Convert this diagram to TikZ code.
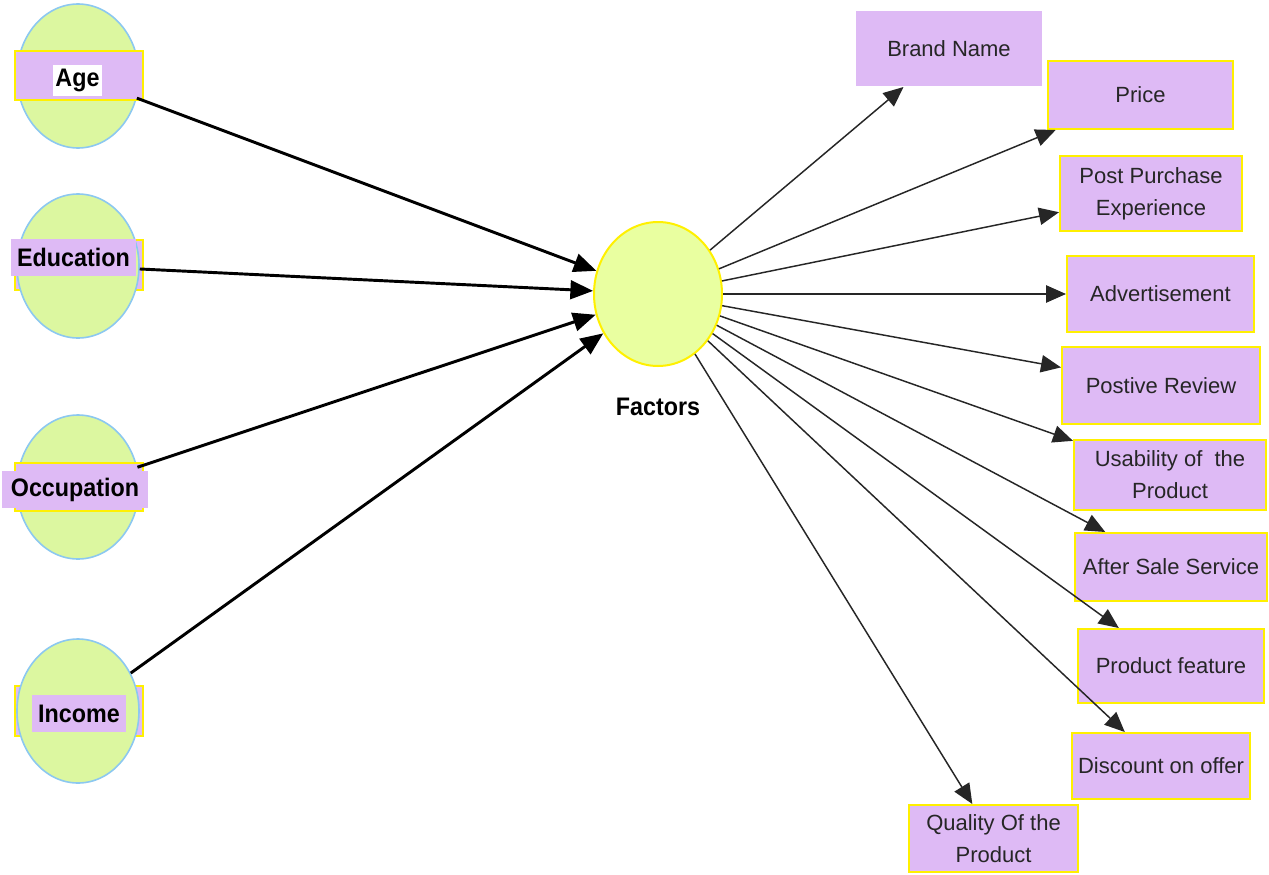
\documentclass[tikz,border=0pt]{standalone}
\usepackage{fontspec}
\setmainfont{Liberation Sans}
\newfontfamily\lblfont[FakeStretch=0.92]{Liberation Sans}
\usetikzlibrary{arrows.meta,shapes.geometric,positioning}
\definecolor{lav}{RGB}{222,186,245}
\definecolor{ylw}{RGB}{255,240,0}
\definecolor{leafgreen}{RGB}{220,247,160}
\definecolor{skyline}{RGB}{140,200,240}
\definecolor{corefill}{RGB}{233,255,160}
\tikzset{
  demog/.style={ellipse, draw=skyline, line width=1.2pt, fill=leafgreen,
    minimum width=91.5pt, minimum height=108pt, inner sep=0pt},
  tagrect/.style={draw=ylw, line width=1.5pt, fill=lav,
    minimum width=96pt, minimum height=37pt, inner sep=0pt},
  hl/.style={fill=lav, inner xsep=4.5pt, inner ysep=0pt, minimum height=27.75pt,
    font=\lblfont\bfseries\fontsize{19}{22}\selectfont},
  factbox/.style={draw=ylw, line width=1.5pt, fill=lav, align=center, text=black!85,
    font=\fontsize{16.5}{24}\selectfont, inner sep=0pt},
  inarrow/.style={line width=2.2pt, -{Triangle[length=17pt,width=14pt]}},
  outarrow/.style={line width=1.1pt, black!85, -{Triangle[length=15pt,width=13pt]}},
}
\begin{document}
\begin{tikzpicture}[x=0.75pt,y=-0.75pt]
\fill[white] (0,0) rectangle (1269,874);
% tags lying behind the circles
\node[tagrect, minimum height=37.5pt] (edur) at (79,265) {};
\node[tagrect, minimum height=37.5pt] (incr) at (79,711) {};
% demographic circles
\node[demog] (age) at (78,76) {};
\node[demog] (edu) at (78,266) {};
\node[demog] (occ) at (78,487) {};
\node[demog] (inc) at (78,711) {};
\node[tagrect] (ager) at (79,75.5) {};
\node[tagrect, minimum height=36pt] (occr) at (79,487) {};
\node[hl, fill=white, inner xsep=2pt, minimum height=23.25pt] (agel) at (77.5,80.5) {Age};
\node[hl, inner xsep=5pt] (edul) at (73.5,257.5) {Education};
\node[hl, inner xsep=6.5pt] (occl) at (75,489.5) {Occupation};
\node[hl] (incl) at (79,713.5) {Income};
% centre
\node[ellipse, draw=ylw, line width=1.5pt, fill=corefill,
  minimum width=96pt, minimum height=108pt, inner sep=0pt] (fac) at (658,294) {};
\node[below=20pt of fac, font=\lblfont\bfseries\fontsize{19}{22}\selectfont] (facl) {Factors};
% factor boxes
\node[factbox, draw=none, minimum width=139.5pt, minimum height=56.25pt] (brand) at (949,48.5) {Brand Name};
\node[factbox, minimum width=138.75pt, minimum height=51pt] (price) at (1140.5,95) {Price};
\node[factbox, minimum width=136.5pt, minimum height=56.25pt] (post) at (1151,193.5) {Post Purchase\\Experience};
\node[factbox, minimum width=140.25pt, minimum height=57pt] (adv) at (1160.5,294) {Advertisement};
\node[factbox, minimum width=148.5pt, minimum height=57.75pt] (review) at (1161,385.5) {Postive Review};
\node[factbox, minimum width=144pt, minimum height=52.5pt] (usab) at (1170,475) {Usability of\ \ the\\Product};
\node[factbox, minimum width=144pt, minimum height=51pt] (after) at (1171,567) {After Sale Service};
\node[factbox, minimum width=139.5pt, minimum height=55.5pt] (feature) at (1171,666) {Product feature};
\node[factbox, minimum width=133.5pt, minimum height=49.5pt] (discount) at (1161,766) {Discount on offer};
\node[factbox, minimum width=126.75pt, minimum height=50.25pt] (quality) at (993.5,838.5) {Quality Of the\\Product};
% connectors
\foreach \s in {age,edu,occ,inc}
  \draw[inarrow] (\s) -- (fac);
\foreach \t in {brand,price,post,adv,review,usab,after,feature,discount,quality}
  \draw[outarrow] (fac) -- (\t);
\end{tikzpicture}
\end{document}
